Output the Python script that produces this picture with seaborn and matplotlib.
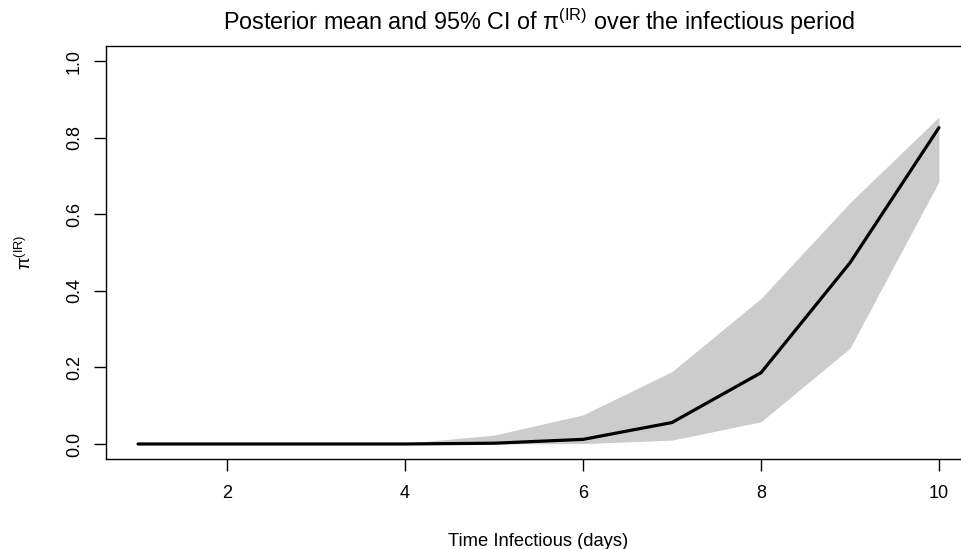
import numpy as np
import pandas as pd
import seaborn as sns
import matplotlib
matplotlib.use("Agg")
import matplotlib.pyplot as plt

days = [1, 2, 3, 4, 5, 6, 7, 8, 9, 10]
post_mean = [0.0, 0.0, 0.0, 0.0, 0.002, 0.012, 0.056, 0.186, 0.473, 0.826]
ci_lower = [0.0, 0.0, 0.0, 0.0, 0.0, 0.001, 0.010, 0.058, 0.250, 0.685]
ci_upper = [0.0, 0.0, 0.0, 0.002, 0.023, 0.076, 0.189, 0.380, 0.630, 0.854]
x_ticks = [2, 4, 6, 8, 10]
y_ticks = [0.0, 0.2, 0.4, 0.6, 0.8, 1.0]

df = pd.DataFrame({"day": days, "mean": post_mean, "lo": ci_lower, "hi": ci_upper})

sns.set_style("ticks")
plt.rcParams["font.family"] = ["Liberation Sans", "DejaVu Sans"]
plt.rcParams["mathtext.fontset"] = "custom"
plt.rcParams["mathtext.rm"] = "Liberation Sans"
plt.rcParams["mathtext.it"] = "Liberation Sans"
plt.rcParams["mathtext.sf"] = "Liberation Sans"
plt.rcParams["text.color"] = "black"
plt.rcParams["axes.labelcolor"] = "black"

W, H = 961, 549
fig = plt.figure(figsize=(W / 100, H / 100), dpi=100)
left, right, top, bottom = 106, 971, 45.7, 459.3
ax = fig.add_axes([left / W, (H - bottom) / H, (right - left) / W, (bottom - top) / H])

ax.fill_between(df["day"], df["lo"], df["hi"], color="#CCCCCC", linewidth=0)
sns.lineplot(data=df, x="day", y="mean", ax=ax, color="black", linewidth=2.3,
             solid_capstyle="round")

ax.set_xlim(0.64, 10.36)
ax.set_ylim(-0.04, 1.04)
ax.set_xticks(x_ticks)
ax.set_xticklabels([str(t) for t in x_ticks])
ax.set_yticks(y_ticks)
ax.set_yticklabels([f"{t:.1f}" for t in y_ticks], rotation=90, va="center")
ax.tick_params(axis="both", length=8.6, width=1.0, color="black", labelsize=13,
               labelcolor="black")
ax.tick_params(axis="x", pad=10)
ax.tick_params(axis="y", pad=8)
for s in ax.spines.values():
    s.set_color("black")
    s.set_linewidth(1.0)

ax.set_xlabel("Time Infectious (days)", fontsize=13.2, labelpad=22, color="black")
ax.set_ylabel(r"π$^{(\mathrm{IR})}$", fontsize=13.2, labelpad=22, color="black")
ax.set_title(r"Posterior mean and 95% CI of π$^{(\mathrm{IR})}$ over the infectious period",
             fontsize=16.8, pad=11, color="black")

fig.savefig("out.png", dpi=100, facecolor="white")
